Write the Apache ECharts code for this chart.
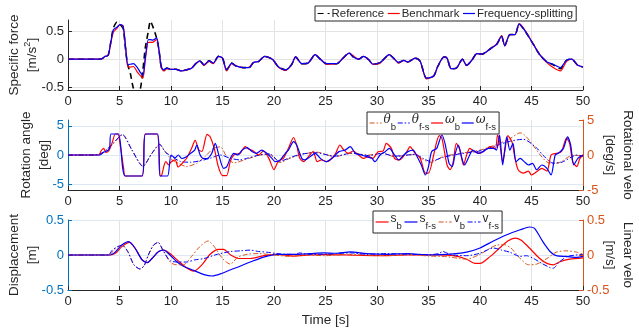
<!DOCTYPE html>
<html><head><meta charset="utf-8">
<script src="https://cdn.jsdelivr.net/npm/echarts@6/dist/echarts.min.js"></script>
<style>html,body{margin:0;padding:0;background:#fff}#c{width:639px;height:330px}</style>
</head><body><div id="c"></div>
<script>
const FONT = 'Liberation Sans, Arial, Helvetica, sans-serif';
// ---------- top panel: specific force [m/s^2] ----------
const forceRef = [[0,0],[3,0],[3.3,0.01],[3.6,0.05],[3.9,0.07],[4.15,0.3],[4.4,0.55],[4.75,0.66],[5.05,0.62],[5.35,0.55],[5.6,0.15],[5.8,-0.1],[6.05,-0.25],[6.35,-0.52],[6.7,-0.63],[7,-0.55],[7.27,-0.2],[7.5,0.2],[7.8,0.5],[8,0.68],[8.2,0.6],[8.6,0.38],[8.85,0.14],[9.05,-0.13],[9.3,-0.19],[9.6,-0.16],[10,-0.18],[10.5,-0.18],[11,-0.21],[11.5,-0.19],[12,-0.16],[12.4,-0.08],[12.8,-0.03],[13.2,-0.1],[13.7,-0.03],[14.1,-0.07],[14.6,0.05],[15,0.02],[15.4,-0.19],[15.9,-0.07],[16.3,-0.12],[17,-0.15],[17.6,-0.15],[18,-0.06],[18.5,-0.04],[19.1,0.05],[19.5,0.03],[19.9,-0.01],[20.4,-0.13],[21.1,-0.19],[21.7,-0.1],[22.1,0.04],[22.7,-0.08],[23.3,-0.07],[24,0.08],[24.5,0],[25.1,-0.08],[26.1,-0.08],[26.7,0.02],[27.3,0.11],[27.7,0.04],[28.2,0],[28.7,0.05],[29.2,-0.01],[29.6,-0.09],[30.3,-0.06],[31.2,0.08],[31.6,0.02],[32.1,-0.06],[32.6,-0.02],[33,-0.05],[33.7,0.02],[34.2,-0.04],[34.8,-0.34],[35.5,-0.3],[35.9,-0.13],[36.5,0.04],[36.8,0.02],[37.2,-0.17],[37.7,-0.16],[38.3,0],[38.7,-0.11],[39.2,-0.02],[39.7,0.1],[40.2,0.09],[40.6,0.13],[41.1,0.2],[41.6,0.26],[42.1,0.41],[42.4,0.24],[42.9,0.44],[43.4,0.44],[43.8,0.63],[44.2,0.55],[44.7,0.41],[45.2,0.26],[45.8,0.08],[46.5,-0.05],[47.1,-0.1],[47.8,-0.17],[48.4,-0.02],[48.9,0],[49.5,-0.11],[50,-0.14]];
const forceBench = [[0,0],[3,0],[3.3,0.01],[3.6,0.05],[3.9,0.07],[4.15,0.28],[4.4,0.48],[4.75,0.55],[5.05,0.62],[5.35,0.59],[5.6,0.2],[5.8,-0.12],[6.05,-0.14],[6.35,-0.13],[6.7,-0.22],[7,-0.29],[7.27,-0.34],[7.5,-0.02],[7.8,0.3],[8,0.3],[8.2,0.3],[8.6,0.35],[8.85,0.13],[9.05,-0.15],[9.3,-0.21],[9.6,-0.17],[10,-0.18],[10.5,-0.18],[11,-0.21],[11.5,-0.19],[12,-0.16],[12.4,-0.08],[12.8,-0.03],[13.2,-0.11],[13.7,-0.04],[14.1,-0.08],[14.6,0.05],[15,0.02],[15.4,-0.21],[15.9,-0.08],[16.3,-0.12],[17,-0.15],[17.6,-0.14],[18,-0.06],[18.5,-0.04],[19.1,0.05],[19.5,0.03],[19.9,-0.01],[20.4,-0.14],[21.1,-0.2],[21.7,-0.1],[22.1,0.04],[22.7,-0.08],[23.3,-0.07],[24,0.08],[24.5,0],[25.1,-0.09],[26.1,-0.08],[26.7,0.02],[27.3,0.11],[27.7,0.06],[28.2,0],[28.7,0.05],[29.2,-0.01],[29.6,-0.09],[30.3,-0.07],[31.2,0.08],[31.6,0.02],[32.1,-0.07],[32.6,-0.02],[33,-0.05],[33.7,0.02],[34.2,-0.04],[34.8,-0.35],[35.5,-0.3],[35.9,-0.13],[36.5,0.04],[36.8,0.02],[37.2,-0.17],[37.7,-0.16],[38.3,0],[38.7,-0.11],[39.2,-0.02],[39.7,0.1],[40.2,0.09],[40.6,0.13],[41.1,0.2],[41.6,0.27],[42.1,0.42],[42.4,0.24],[42.9,0.44],[43.4,0.44],[43.8,0.63],[44.2,0.56],[44.7,0.42],[45.2,0.26],[45.8,0.08],[46.5,-0.06],[47.1,-0.15],[47.8,-0.21],[48.4,-0.04],[48.9,0],[49.5,-0.11],[50,-0.14]];
const forceFS = [[0,0],[3,0],[3.3,0.01],[3.6,0.05],[3.9,0.07],[4.15,0.3],[4.4,0.52],[4.75,0.57],[5.05,0.62],[5.35,0.59],[5.6,0.2],[5.8,-0.1],[6.05,-0.09],[6.35,-0.08],[6.7,-0.14],[7,-0.23],[7.27,-0.29],[7.5,0.02],[7.8,0.35],[8,0.35],[8.2,0.34],[8.6,0.38],[8.85,0.14],[9.05,-0.13],[9.3,-0.19],[9.6,-0.16],[10,-0.18],[10.5,-0.18],[11,-0.21],[11.5,-0.19],[12,-0.16],[12.4,-0.08],[12.8,-0.03],[13.2,-0.1],[13.7,-0.03],[14.1,-0.07],[14.6,0.05],[15,0.02],[15.4,-0.19],[15.9,-0.07],[16.3,-0.12],[17,-0.15],[17.6,-0.15],[18,-0.06],[18.5,-0.04],[19.1,0.05],[19.5,0.03],[19.9,-0.01],[20.4,-0.13],[21.1,-0.19],[21.7,-0.1],[22.1,0.04],[22.7,-0.08],[23.3,-0.07],[24,0.08],[24.5,0],[25.1,-0.08],[26.1,-0.08],[26.7,0.02],[27.3,0.11],[27.7,0.04],[28.2,0],[28.7,0.05],[29.2,-0.01],[29.6,-0.09],[30.3,-0.06],[31.2,0.08],[31.6,0.02],[32.1,-0.06],[32.6,-0.02],[33,-0.05],[33.7,0.02],[34.2,-0.04],[34.8,-0.34],[35.5,-0.3],[35.9,-0.13],[36.5,0.04],[36.8,0.02],[37.2,-0.17],[37.7,-0.16],[38.3,0],[38.7,-0.11],[39.2,-0.02],[39.7,0.1],[40.2,0.09],[40.6,0.13],[41.1,0.2],[41.6,0.26],[42.1,0.41],[42.4,0.24],[42.9,0.44],[43.4,0.44],[43.8,0.63],[44.2,0.55],[44.7,0.41],[45.2,0.26],[45.8,0.08],[46.5,-0.05],[47.1,-0.09],[47.8,-0.15],[48.4,-0.02],[48.9,0],[49.5,-0.11],[50,-0.14]];

// ---------- middle panel: rotation angle [deg] (left) / rotational velocity [deg/s] (right) ----------
const thetaB = [[0,0],[2.5,0],[3.46,0.45],[4.43,2.0],[5.24,3.5],[6.2,0.84],[7.27,-1.97],[8.15,0.28],[8.9,1.85],[9.45,0.56],[10.1,-0.84],[10.7,-1.4],[11.5,-1.97],[12.5,-1.4],[13.3,-0.28],[14.1,1.1],[14.8,1.4],[15.4,-0.28],[16.1,-1.35],[17.2,-0.8],[18.65,0],[19.5,0.1],[20.6,-1.3],[21.5,-0.6],[22.5,0],[24.1,0.5],[25.9,-0.28],[27.5,0.28],[29.2,0],[30.5,0.28],[31.7,-0.28],[33.7,0.1],[34.5,-0.8],[35.2,-1.3],[36.4,-0.28],[38.05,0.28],[40,0.84],[41.9,2.0],[42.9,2.8],[43.9,3.8],[46.8,-1.4],[47.5,-1.4],[49.05,0],[50,-0.28]];
const thetaFS = [[0,0],[2.5,0],[3.46,0.5],[4.43,2.1],[5.3,3.5],[6.2,0.9],[7.27,-1.9],[8.15,0.3],[8.9,1.8],[9.45,0.5],[10.1,-0.28],[10.9,-1.1],[11.9,-1.24],[12.8,-1.0],[13.8,-0.56],[14.8,0],[15.75,-0.56],[16.7,-0.84],[17.5,-0.5],[18.6,0],[19.6,0.2],[20.5,-1.1],[21.5,-0.5],[22.5,0.1],[24,0.4],[25.9,-0.2],[27.5,0.3],[29.2,-0.1],[30.5,0.3],[31.7,-0.2],[33.7,0.1],[34.5,-0.6],[35.2,-1.1],[36.4,-0.4],[38.05,0.2],[40,0.7],[41.9,1.8],[43,2.4],[44.2,2.7],[45.5,1.2],[46.1,0],[47.1,-1.4],[48,-1.2],[49.4,0],[50,-0.2]];
const omegaB = [[0,0],[3.0,0],[3.2,0.57],[3.46,0.95],[3.68,0.38],[3.94,0.57],[4.27,1.67],[4.6,3],[4.85,3],[5.07,1.4],[5.4,-1.9],[5.56,-3],[7.18,-3],[7.5,3],[8.63,3],[8.95,-3],[9.1,-2.9],[9.34,-1.4],[9.5,-0.95],[9.76,-1.4],[10.0,-1],[10.4,-0.7],[10.7,-1.7],[11.2,-1],[11.5,-0.5],[12.0,0.95],[12.35,2.1],[12.7,0.7],[13.0,0.5],[13.5,2.95],[13.8,2.6],[14.2,0.95],[14.6,-1.7],[15.0,-2.95],[15.4,-2.95],[15.75,-0.95],[16.1,0],[16.7,0.24],[17.2,1.2],[17.5,0.86],[18.0,0.57],[18.5,0],[18.97,0.57],[19.5,-0.48],[20.0,-2.1],[20.4,-0.95],[20.9,-0.48],[21.4,0.95],[21.9,2.5],[22.2,1.4],[22.5,-0.48],[22.9,-0.95],[23.2,-0.48],[23.8,0.48],[24.2,-0.95],[24.6,-0.7],[25.1,-0.95],[25.9,0],[26.4,1.43],[26.7,0.86],[27.2,0.24],[27.7,0.57],[28.2,0],[28.7,-0.48],[29.2,-0.24],[29.6,-0.48],[30.1,0.48],[30.6,0.57],[30.9,1.67],[31.4,0.95],[31.7,-0.48],[32.2,-0.7],[32.9,0.48],[33.2,1.2],[33.7,0.24],[34.2,-0.48],[34.7,-2.6],[35.0,-2.6],[35.5,0],[35.8,1.9],[36.05,2.76],[36.3,2.4],[36.8,-1.43],[37.1,-2.1],[37.4,-0.95],[37.7,1.67],[38.05,0.7],[38.4,-1.43],[38.7,0],[39.0,0.95],[39.5,0.48],[40.0,0.24],[40.5,0.7],[41.0,1.2],[41.5,0.95],[41.7,2.86],[41.9,1.9],[42.2,-0.95],[42.4,0.48],[42.7,2.76],[43.1,1.9],[43.4,-0.48],[43.7,-2.1],[44.2,-2.6],[44.7,-2.3],[45.0,-2.86],[45.5,-2.4],[46.0,-1.9],[46.5,-2.3],[46.9,0],[47.4,0.24],[47.9,0.48],[48.4,2.4],[48.7,1.67],[49.0,-0.95],[49.4,-1.67],[49.7,-0.48],[50,0]];
const omegaFS = [[0,0],[3.1,0],[3.46,0.38],[3.78,0.57],[4.04,0.95],[4.17,3],[4.9,3],[5.56,-3],[7.18,-3],[7.53,3],[8.7,3],[8.95,-3],[9.66,-3],[10.0,0],[10.4,-0.4],[10.7,0],[11.05,-0.5],[11.5,-0.24],[11.9,0.24],[12.3,0.7],[12.5,1.4],[12.83,0],[13.15,-0.5],[13.5,-0.5],[13.96,0.24],[14.3,1.67],[14.6,0.24],[15.1,-1.9],[15.4,-1.7],[15.75,-0.5],[16.1,0.24],[16.5,0],[16.9,0.7],[17.4,1.05],[17.9,0.48],[18.3,0.24],[18.8,0.7],[19.3,0.24],[19.8,-0.48],[20.1,-0.95],[20.6,-0.7],[21.1,0.24],[21.4,0.7],[21.9,1.9],[22.2,1.43],[22.7,-0.48],[23.0,-0.7],[23.5,-0.24],[24.0,0.24],[24.5,-0.48],[25.1,-0.95],[25.8,-0.24],[26.3,0.48],[26.9,0.7],[27.4,1.2],[27.9,0.24],[28.5,0],[29.0,-0.24],[29.5,-0.48],[29.8,-0.95],[30.3,0],[30.8,0.48],[31.2,0.95],[31.7,0],[32.1,-0.7],[32.6,0],[33.0,0.48],[33.5,0.7],[33.9,-0.24],[34.3,-1.43],[34.7,-2.86],[35.0,-1.67],[35.3,0.48],[35.8,0.95],[36.3,2.86],[36.6,1.67],[37.0,-1.2],[37.3,-1.67],[37.6,0.24],[37.9,1.43],[38.2,-0.24],[38.5,-1.43],[39.0,0],[39.3,0.7],[39.8,0.24],[40.3,0.48],[40.8,0.95],[41.3,0.95],[41.6,0.7],[41.9,2.86],[42.2,-1.43],[42.6,2.6],[42.9,0.7],[43.2,1.67],[43.5,-0.95],[43.9,-0.48],[44.3,-0.95],[44.7,-1.43],[45.1,-1.2],[45.5,-2.1],[46.0,-1.43],[46.5,-1.9],[46.9,-2.86],[47.3,0],[47.6,0.24],[48.1,0.95],[48.5,2.6],[48.8,1.43],[49.1,-1.43],[49.5,-0.48],[50,0]];

// ---------- bottom panel: displacement [m] (left) / linear velocity [m/s] (right) ----------
const dispB = [[0,0],[4.1,0],[4.6,0.024],[5.24,0.12],[5.95,0.18],[6.5,0.1],[7.2,-0.07],[7.7,-0.11],[8.15,-0.05],[8.8,0.05],[9.3,0.07],[9.9,0.02],[10.6,-0.07],[11.4,-0.17],[12.2,-0.23],[13.0,-0.14],[13.8,0.01],[14.6,0.08],[15.1,0.08],[15.8,0],[16.6,-0.05],[17.7,-0.05],[19.0,-0.01],[20.3,0.01],[21.9,-0.015],[23.5,0],[25,0.005],[27,0],[30,-0.01],[33,0],[36,0],[37.4,-0.01],[38.7,-0.06],[39.5,-0.12],[40.0,-0.12],[41.0,-0.02],[41.9,0.1],[42.7,0.2],[43.4,0.24],[44.0,0.21],[44.8,0.1],[45.8,-0.05],[46.5,-0.12],[47.1,-0.14],[47.7,-0.1],[48.7,-0.06],[50,-0.04]];
const dispFS = [[0,0],[4.0,0],[4.5,0.03],[5.2,0.14],[5.9,0.19],[6.5,0.1],[7.2,-0.07],[7.7,-0.11],[8.15,-0.05],[8.8,0.05],[9.3,0.07],[9.9,0.0],[10.6,-0.1],[11.2,-0.16],[12.2,-0.22],[13.2,-0.28],[14.0,-0.3],[14.8,-0.27],[15.8,-0.21],[16.7,-0.16],[17.7,-0.1],[19.0,-0.03],[20.3,0.01],[21.9,0.01],[23.5,0.02],[24.8,0.03],[26,0.025],[27.4,0.045],[29,0.02],[31,0.01],[33,0.02],[35.1,0.0],[37.4,0.015],[38.7,0.04],[40.0,0.1],[41.3,0.2],[42.6,0.29],[43.9,0.36],[44.8,0.4],[45.3,0.38],[46.1,0.19],[46.8,0.05],[47.4,-0.01],[48.4,-0.02],[49.4,-0.035],[50,-0.02]];
const velB = [[0,0],[4.0,0],[4.4,0.06],[4.9,0.12],[5.3,0.13],[5.8,0.05],[6.4,-0.14],[7.0,-0.2],[7.4,-0.15],[7.8,0.0],[8.3,0.14],[8.75,0.18],[9.2,0.08],[9.9,-0.1],[10.5,-0.14],[11.2,-0.14],[12.0,-0.02],[12.8,0.12],[13.6,0.2],[14.2,0.12],[15.0,-0.05],[15.75,-0.13],[16.5,-0.03],[17.4,0.01],[18.5,0.02],[20,0],[21.5,-0.02],[23,0],[25,-0.01],[27,0.01],[29,0],[31,-0.01],[33,0.005],[35.1,-0.015],[36.8,-0.025],[38.0,-0.05],[38.7,-0.06],[40.0,0.01],[41.0,0.1],[41.6,0.14],[42.3,0.15],[43.0,0.1],[43.9,-0.05],[44.7,-0.14],[45.5,-0.13],[46.5,-0.05],[47.4,0.04],[48.4,0.06],[49.4,0.04],[50,0.01]];
const velFS = [[0,0],[3.9,0],[4.3,0.07],[4.8,0.12],[5.25,0.14],[5.8,0.05],[6.4,-0.14],[7.0,-0.2],[7.4,-0.15],[7.8,0.0],[8.3,0.14],[8.75,0.18],[9.2,0.07],[9.9,-0.08],[10.6,-0.1],[11.5,-0.1],[12.3,-0.07],[13.2,-0.05],[14.5,0.01],[15.8,0.05],[16.8,0.06],[17.7,0.07],[18.5,0.05],[19.3,0.04],[20.3,0.02],[21.2,0.01],[22.0,0.01],[22.5,0.03],[23.2,0.01],[24.8,0.01],[26,0.02],[27.4,0.03],[29,0.01],[31,0.02],[33,0.01],[35.1,0.005],[36,0.02],[36.4,0.05],[36.9,0.02],[37.4,0.0],[38.7,-0.01],[40.0,0.025],[41.3,0.1],[42.1,0.07],[42.9,0.04],[43.9,-0.02],[44.5,-0.01],[45.2,-0.05],[46.0,-0.12],[46.8,-0.18],[47.1,-0.19],[47.7,-0.1],[48.5,-0.02],[50,0.01]];

const forceTicks = [-0.5,0,0.5];
const angleTicks = [-5,0,5];

const DARK = '#262626', MBLUE = '#0072BD', MORANGE = '#D95319';
const GRIDGRAY = '#e3e3e3', GRIDBLUE = '#dce9f4';

function xAx(gi, extra) {
  return Object.assign({
    type: 'value', gridIndex: gi, min: 0, max: 50, interval: 5,
    axisLine: { show: true, onZero: false, lineStyle: { color: DARK, width: 1 } },
    axisTick: { show: true, inside: true, length: 4, lineStyle: { color: DARK } },
    axisLabel: { color: DARK, fontSize: 13, fontFamily: FONT, margin: 5 },
    splitLine: { show: true, lineStyle: { color: GRIDGRAY, width: 1 } }
  }, extra || {});
}
function yAx(o) {
  const color = o.color;
  const ax = {
    type: 'value', gridIndex: o.gi, min: o.min, max: o.max, position: o.pos || 'left',
    axisLine: { show: true, onZero: false, lineStyle: { color: color, width: 1 } },
    axisTick: { show: true, inside: true, length: 4, lineStyle: { color: color } },
    axisLabel: { color: color, fontSize: 13, fontFamily: FONT, margin: 4 },
    splitLine: { show: !!o.grid, lineStyle: { color: o.grid || GRIDGRAY, width: 1 } },
    name: o.name, nameLocation: 'middle', nameGap: o.gap, nameRotate: o.rot, nameMoveOverlap: false,
    nameTextStyle: { color: DARK, fontSize: 13.5, fontFamily: FONT, lineHeight: 18,
      rich: { sup: { fontSize: 9, fontFamily: FONT, color: DARK, verticalAlign: 'top', padding: [0,0,7,0] } } }
  };
  if (o.ticks) { ax.axisTick.customValues = o.ticks; ax.axisLabel.customValues = o.ticks; }
  else ax.interval = o.interval;
  return ax;
}
function ln(name, data, xi, yi, color, width, type) {
  return { name, type: 'line', data, xAxisIndex: xi, yAxisIndex: yi, symbol: 'none', showSymbol: false,
    smooth: 0.25, clip: true, animation: false, color,
    lineStyle: { color, width, type: type || 'solid' }, emphasis: { disabled: true } };
}
const DASHDOT = [5, 2, 1.5, 2];
const sub = { fontSize: 9.5, fontFamily: FONT, color: DARK, verticalAlign: 'bottom', padding: [8, 0, 0, 0] };
const legendBase = { orient: 'horizontal', itemWidth: 13, itemHeight: 10, itemGap: 3, padding: [2, 3, 2, 2],
  borderColor: DARK, borderWidth: 1, borderRadius: 0, backgroundColor: '#fff', selectedMode: false, z: 10,
  itemStyle: { opacity: 0 }, lineStyle: { width: 1.2 } };
const greekLbl = { thB: '{i|θ}{s|b}', thF: '{i|θ}{s|f-s}', omB: '{i|ω}{s|b}', omF: '{i|ω}{s|f-s}',
  sB: '{r|s}{s|b}', sF: '{r|s}{s|f-s}', vB: '{r|v}{s|b}', vF: '{r|v}{s|f-s}' };
const richLeg = {
  i: { fontSize: 12, fontStyle: 'italic', fontFamily: 'DejaVu Serif, serif', color: DARK, verticalAlign: 'top', lineHeight: 14 },
  r: { fontSize: 12, fontFamily: FONT, color: DARK, verticalAlign: 'top', lineHeight: 14 },
  s: sub
};

const chart = echarts.init(document.getElementById('c'), null, { renderer: 'canvas' });
const gridBase = { left: 68, right: 56, height: 70, containLabel: false, outerBoundsMode: 'none' };
chart.setOption({
  backgroundColor: '#fff',
  animation: false,
  grid: [
    Object.assign({ top: 20 }, gridBase),
    Object.assign({ top: 120 }, gridBase),
    Object.assign({ top: 220 }, gridBase)
  ],
  xAxis: [ xAx(0), xAx(1),
    xAx(2, { name: 'Time [s]', nameLocation: 'middle', nameGap: 23, nameMoveOverlap: false,
      nameTextStyle: { color: DARK, fontSize: 13.5, fontFamily: FONT } }) ],
  yAxis: [
    yAx({ gi: 0, min: -0.55, max: 0.7, ticks: forceTicks, color: DARK, grid: GRIDGRAY,
      name: 'Specific force\n[m/s{sup|2}]', gap: 27 }),
    yAx({ gi: 1, min: -6, max: 6, ticks: angleTicks, color: MBLUE, grid: GRIDBLUE,
      name: 'Rotation angle\n[deg]', gap: 15 }),
    yAx({ gi: 1, min: -5, max: 5, interval: 5, color: MORANGE, pos: 'right',
      name: 'Rotational velo\n[deg/s]', gap: 18, rot: -90 }),
    yAx({ gi: 2, min: -0.5, max: 0.5, interval: 0.5, color: MBLUE, grid: GRIDBLUE,
      name: 'Displacement\n[m]', gap: 27 }),
    yAx({ gi: 2, min: -0.5, max: 0.5, interval: 0.5, color: MORANGE, pos: 'right',
      name: 'Linear velo\n[m/s]', gap: 18, rot: -90 })
  ],
  legend: [
    Object.assign({}, legendBase, { left: 315, top: 6, itemWidth: 12,
      data: ['Reference', 'Benchmark', 'Frequency-splitting'],
      textStyle: { fontSize: 11.4, fontFamily: FONT, color: DARK, padding: [0, 0, 0, -3] } }),
    Object.assign({}, legendBase, { left: 367, top: 112, itemGap: 1, itemWidth: 12,
      data: ['thB', 'thF', 'omB', 'omF'], formatter: n => greekLbl[n],
      textStyle: { fontSize: 12, fontFamily: FONT, color: DARK, rich: richLeg, padding: [0, 0, 0, -3] } }),
    Object.assign({}, legendBase, { left: 373, top: 211, itemGap: 2,
      data: ['sB', 'sF', 'vB', 'vF'], formatter: n => greekLbl[n],
      textStyle: { fontSize: 12, fontFamily: FONT, color: DARK, rich: richLeg, padding: [0, 0, 0, -3] } })
  ],
  series: [
    ln('Reference', forceRef, 0, 0, '#000000', 1.6, [6, 4]),
    ln('Benchmark', forceBench, 0, 0, '#FF0000', 1.2),
    ln('Frequency-splitting', forceFS, 0, 0, '#0000FF', 1.2),
    ln('thB', thetaB, 1, 1, MORANGE, 1, DASHDOT),
    ln('thF', thetaFS, 1, 1, '#0000FF', 1, DASHDOT),
    ln('omB', omegaB, 1, 2, '#FF0000', 1.2),
    ln('omF', omegaFS, 1, 2, '#0000FF', 1.2),
    ln('sB', dispB, 2, 3, '#FF0000', 1.2),
    ln('sF', dispFS, 2, 3, '#0000FF', 1.2),
    ln('vB', velB, 2, 4, MORANGE, 1, DASHDOT),
    ln('vF', velFS, 2, 4, '#0000FF', 1, DASHDOT)
  ]
});
</script></body></html>
